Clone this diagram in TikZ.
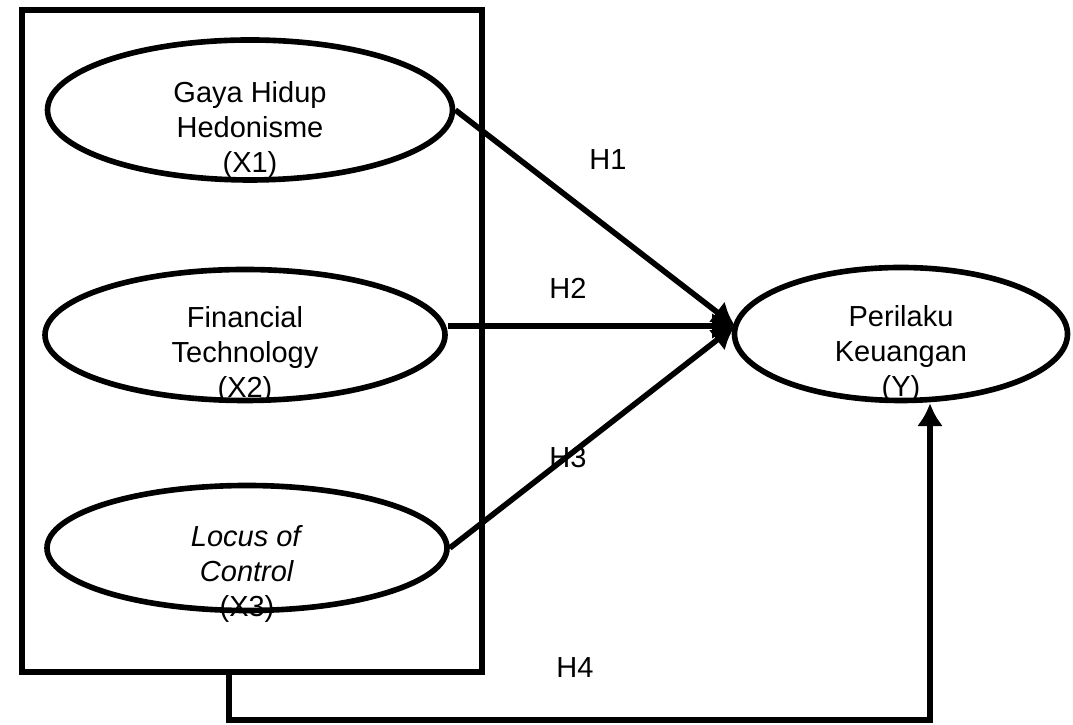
\documentclass[tikz,border=0pt]{standalone}
\usepackage{fontspec}
\setmainfont{Liberation Sans}
\usepackage{tikz}
\usetikzlibrary{shapes, arrows.meta, positioning}

\begin{document}
\begin{tikzpicture}[
	var/.style={ellipse, draw, line width=3.2pt, inner sep=0pt},
	teks/.style={align=center, font=\fontsize{16.5}{20}\selectfont},
	panah/.style={line width=3.2pt, -{Latex[length=13pt,width=15pt]}}]
			\useasboundingbox (0,0) rectangle (21.46,14.5);
			
			% kotak X
			\node[draw, line width=3.2pt, minimum width=9.2cm, minimum height=13.24cm, inner sep=0pt] (box) at (5.04,7.68) {};
			
			% variabel X
			\node[var, minimum width=8.1cm, minimum height=2.8cm] (X1) at (5.0,12.3) {};
			\node[teks] (X1t) at (5.0,11.9) {Gaya Hidup\\Hedonisme\\(X1)};
			\node[var, minimum width=8.0cm, minimum height=2.62cm] (X2) at (4.9,7.8) {};
			\node[teks] (X2t) at (4.9,7.4) {Financial\\Technology\\(X2)};
			\node[var, minimum width=8.0cm, minimum height=2.5cm] (X3) at (4.94,3.54) {};
			\node[teks] (X3t) at (4.94,3.02) {\textit{Locus of}\\\textit{Control}\\(X3)};
			
			% variabel Y
			\node[var, minimum width=6.66cm, minimum height=2.66cm] (Y) at (18.02,7.82) {};
			\node[teks] (Yt) at (18.02,7.42) {Perilaku\\Keuangan\\(Y)};
			
			% H1, H2, H3
			\coordinate (tip) at (14.7,7.98);
			\draw[panah] (X1.east) -- (tip);
			\draw[panah] (X2.east |- tip) -- (tip);
			\draw[panah] (X3.east) -- (tip);
			\node[teks] (H1) at (12.16,11.3) {H1};
			\node[teks] (H2) at (11.36,8.74) {H2};
			\node[teks] (H3) at (11.36,5.34) {H3};
			
			% H4
			\coordinate (a) at (4.58,0.1);
			\coordinate (b) at (18.6,0.1);
			\draw[panah] (box.south -| a) -- (a) -- (b) -- (Y.south -| b);
			\node[teks] (H4) at (11.5,1.14) {H4};
		\end{tikzpicture}
\end{document}
